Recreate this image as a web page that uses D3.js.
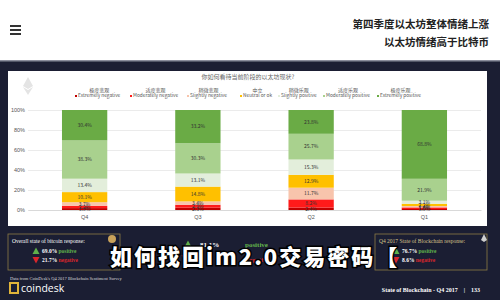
<!DOCTYPE html>
<html>
<head>
<meta charset="utf-8">
<script src="https://cdn.jsdelivr.net/npm/d3@7"></script>
<style>
  body { margin: 0; background: #fff; }
  svg { display: block; font-family: "Noto Sans CJK SC", "Noto Sans", sans-serif; }
</style>
</head>
<body>
<svg id="chart" width="500" height="300"></svg>
<script>
// data (percent of each bar, bottom to top)
const quarters = ["Q4", "Q3", "Q2", "Q1"];
const extremelyNegative = [1.9, 2.3, 2.4, 1.0];
const moderatelyNegative = [2.2, 2.9, 8.2, 1.6];
const slightlyNegative = [3.7, 3.4, 11.7, 1.4];
const neutral = [10.1, 14.8, 12.9, 2.2];
const slightlyPositive = [13.4, 13.1, 15.3, 3.1];
const moderatelyPositive = [38.3, 30.3, 25.7, 21.9];
const extremelyPositive = [30.4, 33.2, 23.8, 68.8];

const seriesKeys = ["exNeg", "modNeg", "slNeg", "neutral", "slPos", "modPos", "exPos"];
const seriesEn = ["Extremely negative", "Moderately negative", "Slightly negative", "Neutral or ok",
                  "Slightly positive", "Moderately positive", "Extremely positive"];
const seriesZh = ["极度悲观", "适度悲观", "稍微悲观", "中立", "稍微乐观", "适度乐观", "极度乐观"];
const yTicks = [0, 20, 40, 60, 80, 100];

const colors = ["#c00000", "#ff1a1a", "#f8c4ac", "#ffc000", "#e3eedb", "#a9d18e", "#6aab45"];

const table = quarters.map((q, i) => ({
  q: q,
  exNeg: extremelyNegative[i], modNeg: moderatelyNegative[i], slNeg: slightlyNegative[i],
  neutral: neutral[i], slPos: slightlyPositive[i], modPos: moderatelyPositive[i], exPos: extremelyPositive[i]
}));

const svg = d3.select("#chart");

// header
svg.append("rect").attr("width", 500).attr("height", 60).attr("fill", "#ffffff");
[26, 30, 34].forEach(y => {
  svg.append("rect").attr("x", 10).attr("y", y - 1).attr("width", 11).attr("height", 2).attr("fill", "#333");
});
svg.append("text").attr("x", 489).attr("y", 28).attr("text-anchor", "end")
  .attr("font-size", 10.5).attr("font-weight", 700).attr("fill", "#222").text("第四季度以太坊整体情绪上涨");
svg.append("text").attr("x", 489).attr("y", 46).attr("text-anchor", "end")
  .attr("font-size", 10.5).attr("font-weight", 700).attr("fill", "#222").text("以太坊情绪高于比特币");

// dark slide background
svg.append("rect").attr("y", 60).attr("width", 500).attr("height", 240).attr("fill", "#1b1e33");
svg.append("rect").attr("y", 60).attr("width", 500).attr("height", 1.5).attr("fill", "#8a8d9c");

// white chart panel
svg.append("rect").attr("x", 8).attr("y", 71).attr("width", 479).attr("height", 155).attr("fill", "#ffffff");

svg.append("text").attr("x", 248).attr("y", 79).attr("text-anchor", "middle")
  .attr("font-size", 6).attr("fill", "#666").text("你如何看待当前阶段的以太坊现状?");

// faint ether logo
const eth = svg.append("g").attr("transform", "translate(28,86)").attr("fill", "#e4e4e4");
eth.append("path").attr("d", "M0,-9 L5,0 L0,3 L-5,0 Z");
eth.append("path").attr("d", "M0,4 L5,1 L0,9 L-5,1 Z");

const x = d3.scaleBand().domain(quarters).range([28, 481]).paddingInner(0.6).paddingOuter(0.3);
const y = d3.scaleLinear().domain([0, 100]).range([210, 110]);

// grid + y labels
const yAxis = svg.append("g").attr("transform", "translate(28,0)")
  .call(d3.axisLeft(y).tickValues(yTicks).tickSize(-453).tickFormat(d => d + "%"));
yAxis.select(".domain").remove();
yAxis.selectAll(".tick line").attr("stroke", "#e6e6e6").attr("stroke-width", 0.8);
yAxis.selectAll(".tick text").attr("font-size", 5.5).attr("fill", "#555").attr("x", -3);

// x labels
const xAxis = svg.append("g").attr("transform", "translate(0,210)")
  .call(d3.axisBottom(x).tickSize(0).tickPadding(5));
xAxis.select(".domain").attr("stroke", "#d9d9d9");
xAxis.selectAll(".tick text").attr("font-size", 5.5).attr("fill", "#555");

// stacked bars
const stacked = d3.stack().keys(seriesKeys)(table);
const layers = svg.append("g").selectAll("g").data(stacked).join("g")
  .attr("fill", (d, i) => colors[i]);
layers.selectAll("rect").data(d => d).join("rect")
  .attr("x", d => x(d.data.q))
  .attr("width", x.bandwidth())
  .attr("y", d => y(d[1]))
  .attr("height", d => y(d[0]) - y(d[1]));

const labels = svg.append("g").attr("font-size", 5).attr("fill", "#333").attr("text-anchor", "middle");
stacked.forEach(layer => {
  layer.forEach(d => {
    labels.append("text")
      .attr("x", x(d.data.q) + x.bandwidth() / 2)
      .attr("y", (y(d[0]) + y(d[1])) / 2 + 1.8)
      .text((d[1] - d[0]).toFixed(1) + "%");
  });
});

// legend
const legendX = [78, 133, 190, 243, 281, 326, 380];
const legend = svg.append("g");
seriesEn.forEach((name, i) => {
  const g = legend.append("g").attr("transform", "translate(" + legendX[i] + ",0)");
  g.append("rect").attr("x", -3).attr("y", 95).attr("width", 2).attr("height", 2).attr("fill", colors[i]);
  const t = g.append("text").attr("x", 0).attr("y", 97.3).attr("font-size", 4.8).attr("fill", "#555").text(name);
  const w = t.node().getComputedTextLength();
  g.append("text").attr("x", w / 2).attr("y", 91.5).attr("text-anchor", "middle")
    .attr("font-size", 5).attr("fill", "#555").text(seriesZh[i]);
});

// bottom boxes
const serif = "'Liberation Serif', 'DejaVu Serif', serif";
function tri(xc, yc, up, col) {
  const p = up ? `M${xc - 3.5},${yc + 3} L${xc + 3.5},${yc + 3} L${xc},${yc - 3.5} Z`
               : `M${xc - 3.5},${yc - 3} L${xc + 3.5},${yc - 3} L${xc},${yc + 3.5} Z`;
  svg.append("path").attr("d", p).attr("fill", col);
}
svg.append("rect").attr("x", 8).attr("y", 234).attr("width", 112).attr("height", 36)
  .attr("fill", "none").attr("stroke", "#8c7a45").attr("stroke-width", 0.8);
svg.append("text").attr("x", 12).attr("y", 243).attr("font-family", serif).attr("font-size", 5.5)
  .attr("fill", "#fff").text("Overall state of bitcoin response:");
svg.append("circle").attr("cx", 112).attr("cy", 239).attr("r", 4).attr("fill", "#c9a25a");
tri(36, 251, true, "#5fb04a");
tri(36, 260, false, "#d9262c");
svg.append("text").attr("x", 42).attr("y", 253).attr("font-family", serif).attr("font-size", 5.5).attr("font-weight", 700)
  .attr("fill", "#fff").text("69.0% ").append("tspan").attr("fill", "#63b54c").text("positive");
svg.append("text").attr("x", 42).attr("y", 262).attr("font-family", serif).attr("font-size", 5.5).attr("font-weight", 700)
  .attr("fill", "#fff").text("21.7% ").append("tspan").attr("fill", "#d9262c").text("negative");

// middle (mostly covered)
tri(188, 244, true, "#5fb04a");
tri(185, 258, false, "#d9262c");
svg.append("text").attr("x", 200).attr("y", 247).attr("font-family", serif).attr("font-size", 7).attr("font-weight", 700)
  .attr("fill", "#fff").text("81.1%");
svg.append("text").attr("x", 245).attr("y", 247).attr("font-family", serif).attr("font-size", 7).attr("font-weight", 700)
  .attr("fill", "#63b54c").text("positive");
svg.append("text").attr("x", 245).attr("y", 262).attr("font-family", serif).attr("font-size", 7).attr("font-weight", 700)
  .attr("fill", "#d9262c").text("negative");

svg.append("rect").attr("x", 375).attr("y", 234).attr("width", 112).attr("height", 36)
  .attr("fill", "none").attr("stroke", "#8c7a45").attr("stroke-width", 0.8);
svg.append("text").attr("x", 379).attr("y", 243).attr("font-family", serif).attr("font-size", 5.5)
  .attr("fill", "#d8c38a").text("Q4 2017 State of Blockchain response:");
svg.append("path").attr("d", "M484,234 L487,240 L484,242 L481,240 Z").attr("fill", "#cfcfcf");
tri(396, 251, true, "#5fb04a");
tri(396, 260, false, "#d9262c");
svg.append("text").attr("x", 402).attr("y", 253).attr("font-family", serif).attr("font-size", 5.5).attr("font-weight", 700)
  .attr("fill", "#fff").text("76.7% ").append("tspan").attr("fill", "#63b54c").text("positive");
svg.append("text").attr("x", 402).attr("y", 262).attr("font-family", serif).attr("font-size", 5.5).attr("font-weight", 700)
  .attr("fill", "#fff").text("8.6% ").append("tspan").attr("fill", "#d9262c").text("negative");

// overlay title
svg.append("text").attr("x", 110).attr("y", 265).attr("font-size", 22).attr("font-weight", 900)
  .attr("fill", "#fff").attr("stroke", "#000").attr("stroke-width", 3).attr("paint-order", "stroke")
  .attr("letter-spacing", 2).text("如何找回im2.0交易密码【");

// footer
svg.append("text").attr("x", 10).attr("y", 280).attr("font-family", serif).attr("font-size", 4.5)
  .attr("fill", "#ddd").text("Data from CoinDesk's Q4 2017 Blockchain Sentiment Survey");
svg.append("rect").attr("x", 10).attr("y", 283).attr("width", 8).attr("height", 10).attr("fill", "none")
  .attr("stroke", "#e0b43a").attr("stroke-width", 2);
svg.append("text").attr("x", 21).attr("y", 292).attr("font-family", "'Open Sans', sans-serif").attr("font-size", 10.5)
  .attr("fill", "#fff").text("coindesk");
svg.append("text").attr("x", 480).attr("y", 292).attr("text-anchor", "end").attr("font-family", serif)
  .attr("font-size", 6).attr("font-weight", 700).attr("fill", "#fff").attr("xml:space", "preserve")
  .text("State of Blockchain - Q4 2017    |    133");
</script>
</body>
</html>
